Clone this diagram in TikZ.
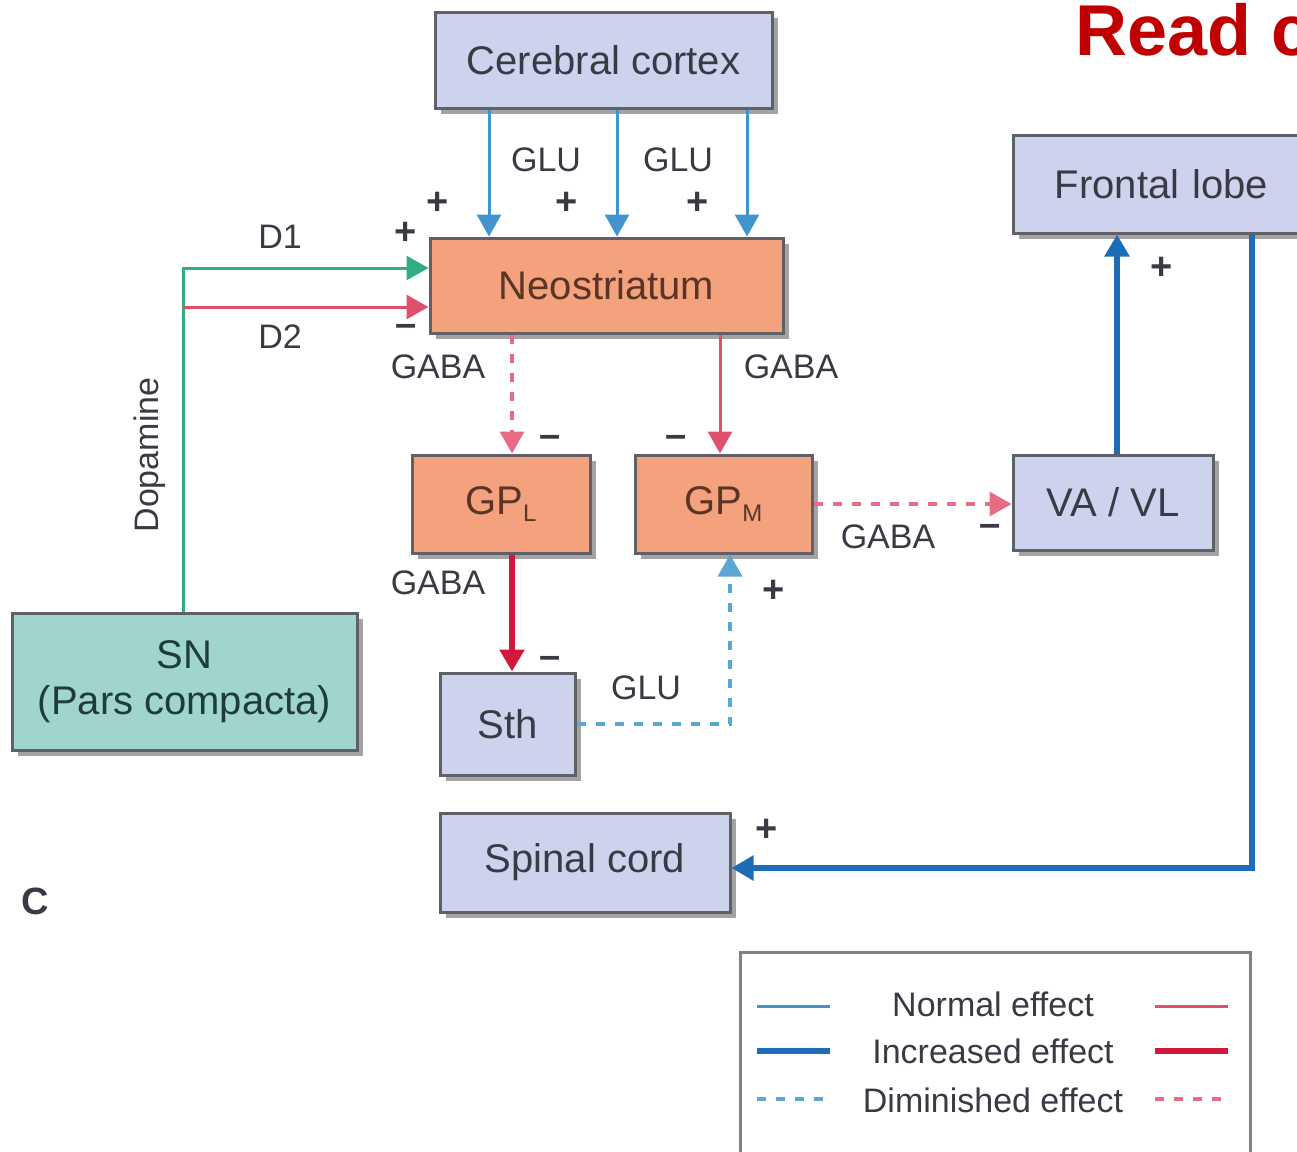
\documentclass[tikz,border=0pt]{standalone}
\usepackage{fontspec}
\setmainfont{Liberation Sans}
\usetikzlibrary{arrows.meta,shadows,calc}
\definecolor{lav}{HTML}{CDD3EC}
\definecolor{salmon}{HTML}{F4A27E}
\definecolor{teal}{HTML}{A0D5CD}
\definecolor{txtgray}{HTML}{3A3A44}
\definecolor{txtbrown}{HTML}{5A3424}
\definecolor{txtteal}{HTML}{1E3C3C}
\definecolor{bordgray}{HTML}{606068}
\definecolor{nblue}{HTML}{3F95CC}
\definecolor{iblue}{HTML}{1C6DB6}
\definecolor{dblue}{HTML}{5AA6D4}
\definecolor{ngreen}{HTML}{2FAE82}
\definecolor{nred}{HTML}{E0506C}
\definecolor{ired}{HTML}{D2173C}
\definecolor{dred}{HTML}{E86A84}
\definecolor{readred}{HTML}{C00000}
\newcommand{\bigfont}{\fontsize{40}{46}\selectfont}
\newcommand{\labfont}{\fontsize{34}{38}\selectfont}
\newcommand{\mysub}[1]{\raisebox{-0.35ex}{\fontsize{24}{24}\selectfont #1}}
\tikzset{
  box/.style={draw=bordgray, line width=3pt, inner sep=0pt,
    drop shadow={shadow xshift=6pt, shadow yshift=-6pt, fill=black!45, opacity=0.8},
    font=\bigfont, align=center},
  lavbox/.style={box, fill=lav, text=txtgray},
  salbox/.style={box, fill=salmon, text=txtbrown},
  tealbox/.style={box, fill=teal, text=txtteal},
  lab/.style={font=\labfont, text=txtgray, inner sep=0pt},
  sign/.style={font=\fontsize{38}{38}\selectfont\bfseries, text=txtgray, inner sep=0pt},
  tipA/.style={-{Triangle[width=24pt,length=22pt]}},
  nb/.style={nblue, line width=3pt, tipA},
  ib/.style={iblue, line width=6pt, tipA},
  db/.style={dblue, line width=3.5pt, dash pattern=on 9pt off 10pt, tipA},
  nr/.style={nred, line width=3pt, tipA},
  ir/.style={ired, line width=5.5pt, tipA},
  dr/.style={dred, line width=3.5pt, dash pattern=on 9pt off 10pt, tipA},
  ng/.style={ngreen, line width=3pt, tipA},
}
\begin{document}
\begin{tikzpicture}[x=1pt,y=-1pt]
\useasboundingbox (0,0) rectangle (1297,1151);

% boxes
\node[lavbox, minimum width=337pt, minimum height=96pt] (cortex) at (603.5,60) {Cerebral cortex};
\node[salbox, minimum width=353pt, minimum height=95pt] (neo) at (606.5,285.5) {Neostriatum};
\node[salbox, minimum width=178pt, minimum height=98pt] (gpl) at (501,504) {GP\mysub{L}};
\node[salbox, minimum width=177pt, minimum height=98pt] (gpm) at (723.5,504) {GP\mysub{M}};
\node[lavbox, minimum width=200pt, minimum height=95pt] (vavl) at (1113,502.5) {VA / VL};
\node[lavbox, minimum width=297pt, minimum height=98pt, text width=297pt, align=center] (frontal) at (1161.5,184) {Frontal lobe};
\node[tealbox, minimum width=345pt, minimum height=137pt] (sn) at (184.5,681.5) {SN\\[0pt](Pars compacta)};
\node[lavbox, minimum width=135pt, minimum height=102pt] (sth) at (507.5,724) {Sth};
\node[lavbox, minimum width=290pt, minimum height=99pt] (spinal) at (585,862.5) {Spinal cord};

% cortex -> neostriatum
\draw[nb] ([xshift=-114.5pt]cortex.south) -- ([xshift=-114.5pt]cortex.south |- neo.north);
\draw[nb] ([xshift=13.5pt]cortex.south) -- ([xshift=13.5pt]cortex.south |- neo.north);
\draw[nb] ([xshift=143.5pt]cortex.south) -- ([xshift=143.5pt]cortex.south |- neo.north);
\node[lab] (glu1) at (546,160) {GLU};
\node[lab] (glu2) at (678,160) {GLU};
\node[sign] (p1) at (438,203) {+};
\node[sign] (p2) at (567,203) {+};
\node[sign] (p3) at (698,203) {+};

% dopamine
\coordinate (d2s) at (183,307);
\draw[ng] ([xshift=-1.5pt]sn.north) |- ([yshift=17.5pt]neo.west);
\draw[nr] (d2s) -- (d2s -| neo.west);
\node[lab] (d1) at (280,237) {D1};
\node[lab] (d2) at (280,337) {D2};
\node[sign] (p4) at (406,233) {+};
\node[sign] (m1) at (406,330) {–};
\node[lab, rotate=90] (dop) at (150,455) {Dopamine};

% neo -> GPL / GPM
\draw[dr] ([xshift=11pt]gpl.north |- neo.south) -- ([xshift=11pt]gpl.north);
\node[lab] (gaba1) at (438,367) {GABA};
\node[sign] (m2) at (550,441) {–};
\draw[nr] ([xshift=-3.5pt]gpm.north |- neo.south) -- ([xshift=-3.5pt]gpm.north);
\node[lab] (gaba2) at (791,367) {GABA};
\node[sign] (m3) at (676,441) {–};

% GPL -> Sth
\draw[ir] ([xshift=11pt]gpl.south) -- ([xshift=11pt]gpl.south |- sth.north);
\node[lab] (gaba3) at (438,583) {GABA};
\node[sign] (m4) at (550,662) {–};

% Sth -> GPM
\draw[db] (sth.east) -| ([xshift=6.5pt]gpm.south);
\node[lab] (glu3) at (646,688) {GLU};
\node[sign] (p5) at (774,591) {+};

% GPM -> VA/VL
\draw[dr] (gpm.east) -- (gpm.east -| vavl.west);
\node[lab] (gaba4) at (888,537) {GABA};
\node[sign] (m5) at (990,530) {–};

% VA/VL -> frontal
\draw[ib] ([xshift=4pt]vavl.north) -- ([xshift=4pt]vavl.north |- frontal.south);
\node[sign] (p6) at (1162,268) {+};

% frontal -> spinal
\draw[ib] ([xshift=90.5pt]frontal.south) |- ([yshift=-5.5pt]spinal.east);
\node[sign] (p7) at (767,830) {+};

% panel label
\node[font=\fontsize{38}{38}\selectfont\bfseries, text=txtgray, inner sep=0pt] (clab) at (35,901) {C};

% read text
\node[font=\fontsize{72}{72}\selectfont\bfseries, text=readred, inner sep=0pt, anchor=base west] (read) at (1075,55) {Read c};

% legend
\draw[bordgray!80, line width=3pt] (740,1170) -- (740,952) -- (1250,952) -- (1250,1170);
\draw[nblue, line width=3pt] (757,1006) -- (830,1006);
\draw[nred, line width=3pt] (1155,1006) -- (1228,1006);
\draw[iblue, line width=6pt] (757,1051) -- (830,1051);
\draw[ired, line width=6pt] (1155,1051) -- (1228,1051);
\draw[dblue, line width=3.5pt, dash pattern=on 9pt off 10pt] (757,1099) -- (830,1099);
\draw[dred, line width=3.5pt, dash pattern=on 9pt off 10pt] (1155,1099) -- (1228,1099);
\node[lab] (lg1) at (993,1004) {Normal effect};
\node[lab] (lg2) at (993,1051) {Increased effect};
\node[lab] (lg3) at (993,1100) {Diminished effect};
\end{tikzpicture}
\end{document}
